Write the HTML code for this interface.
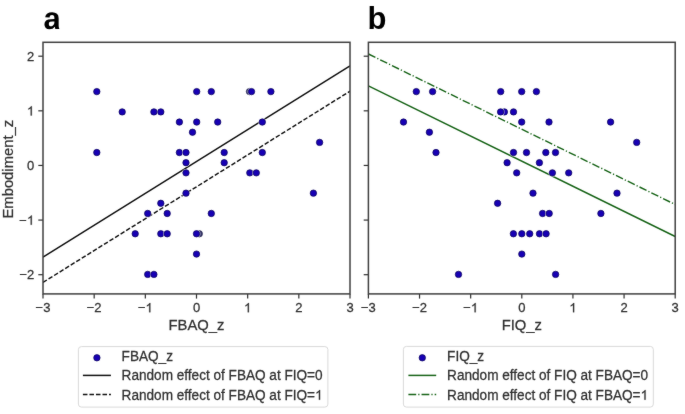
<!DOCTYPE html>
<html><head><meta charset="utf-8"><title>Figure</title><style>
html,body{margin:0;padding:0;background:#fff;}
body{width:685px;height:414px;overflow:hidden;}
svg{display:block;}
text{font-family:"Liberation Sans", sans-serif;fill:#303030;stroke:#303030;stroke-width:0.25px;}
.tk{font-size:13px;}
.lab{font-size:14.8px;}
.lg{font-size:13.6px;}
.one{fill:none;stroke:none;}
.pl{font-size:31px;font-weight:bold;fill:#000;stroke:none;}
</style></head>
<body><svg width="685" height="414" viewBox="0 0 685 414"><defs><filter id="soft" filterUnits="userSpaceOnUse" x="0" y="0" width="685" height="414" color-interpolation-filters="sRGB"><feConvolveMatrix order="3" kernelMatrix="1 2 1 2 40 2 1 2 1" edgeMode="duplicate"/></filter></defs><rect width="685" height="414" fill="#fff"/><g filter="url(#soft)"><path d="M393 -20Q236 -20 148 65.5Q60 151 60 306Q60 474 169.5 562Q279 650 487 652L720 656V711Q720 817 683 868.5Q646 920 562 920Q484 920 447.5 884.5Q411 849 402 767L109 781Q136 939 253.5 1020.5Q371 1102 574 1102Q779 1102 890 1001Q1001 900 1001 714V230Q1001 110 1030 50Q1045 18 1068 0H782Q772 28 766 66Q761 100 758 150H749Q631 -20 393 -20ZM720 501L576 499Q478 495 437 477.5Q396 460 374.5 424Q353 388 353 328Q353 251 388.5 213.5Q424 176 483 176Q549 176 603.5 212Q658 248 689 311.5Q720 375 720 446Z" transform="translate(43.5,29) scale(0.015137,-0.015137)" fill="#000"/><text x="367.5" y="29" class="pl">b</text><line x1="43.00" y1="293.9" x2="43.00" y2="298.59999999999997" stroke="#303030" stroke-width="1.2"/><text transform="translate(43.00,312.30) scale(1,1.04)" class="tk" text-anchor="middle">−3</text><line x1="94.17" y1="293.9" x2="94.17" y2="298.59999999999997" stroke="#303030" stroke-width="1.2"/><text transform="translate(94.17,312.30) scale(1,1.04)" class="tk" text-anchor="middle">−2</text><line x1="145.33" y1="293.9" x2="145.33" y2="298.59999999999997" stroke="#303030" stroke-width="1.2"/><text transform="translate(145.33,312.30) scale(1,1.04)" class="tk" text-anchor="middle">−<tspan class="one">1</tspan></text><line x1="196.50" y1="293.9" x2="196.50" y2="298.59999999999997" stroke="#303030" stroke-width="1.2"/><text transform="translate(196.50,312.30) scale(1,1.04)" class="tk" text-anchor="middle">0</text><line x1="247.67" y1="293.9" x2="247.67" y2="298.59999999999997" stroke="#303030" stroke-width="1.2"/><text transform="translate(247.67,312.30) scale(1,1.04)" class="tk" text-anchor="middle"><tspan class="one">1</tspan></text><line x1="298.83" y1="293.9" x2="298.83" y2="298.59999999999997" stroke="#303030" stroke-width="1.2"/><text transform="translate(298.83,312.30) scale(1,1.04)" class="tk" text-anchor="middle">2</text><line x1="350.00" y1="293.9" x2="350.00" y2="298.59999999999997" stroke="#303030" stroke-width="1.2"/><text transform="translate(350.00,312.30) scale(1,1.04)" class="tk" text-anchor="middle">3</text><line x1="38.3" y1="56.19999999999999" x2="43.0" y2="56.19999999999999" stroke="#303030" stroke-width="1.2"/><text transform="translate(34.20,60.90) scale(1,1.04)" class="tk" text-anchor="end">2</text><line x1="38.3" y1="110.82499999999999" x2="43.0" y2="110.82499999999999" stroke="#303030" stroke-width="1.2"/><text transform="translate(34.20,115.52) scale(1,1.04)" class="tk" text-anchor="end"><tspan class="one">1</tspan></text><line x1="38.3" y1="165.45" x2="43.0" y2="165.45" stroke="#303030" stroke-width="1.2"/><text transform="translate(34.20,170.15) scale(1,1.04)" class="tk" text-anchor="end">0</text><line x1="38.3" y1="220.075" x2="43.0" y2="220.075" stroke="#303030" stroke-width="1.2"/><text transform="translate(34.20,224.77) scale(1,1.04)" class="tk" text-anchor="end">−<tspan class="one">1</tspan></text><line x1="38.3" y1="274.7" x2="43.0" y2="274.7" stroke="#303030" stroke-width="1.2"/><text transform="translate(34.20,279.40) scale(1,1.04)" class="tk" text-anchor="end">−2</text><text transform="translate(196.50,329.70) scale(1,1.04)" class="lab" text-anchor="middle">FBAQ_z</text><line x1="368.40" y1="293.9" x2="368.40" y2="298.59999999999997" stroke="#303030" stroke-width="1.2"/><text transform="translate(368.40,312.30) scale(1,1.04)" class="tk" text-anchor="middle">−3</text><line x1="419.53" y1="293.9" x2="419.53" y2="298.59999999999997" stroke="#303030" stroke-width="1.2"/><text transform="translate(419.53,312.30) scale(1,1.04)" class="tk" text-anchor="middle">−2</text><line x1="470.67" y1="293.9" x2="470.67" y2="298.59999999999997" stroke="#303030" stroke-width="1.2"/><text transform="translate(470.67,312.30) scale(1,1.04)" class="tk" text-anchor="middle">−<tspan class="one">1</tspan></text><line x1="521.80" y1="293.9" x2="521.80" y2="298.59999999999997" stroke="#303030" stroke-width="1.2"/><text transform="translate(521.80,312.30) scale(1,1.04)" class="tk" text-anchor="middle">0</text><line x1="572.93" y1="293.9" x2="572.93" y2="298.59999999999997" stroke="#303030" stroke-width="1.2"/><text transform="translate(572.93,312.30) scale(1,1.04)" class="tk" text-anchor="middle"><tspan class="one">1</tspan></text><line x1="624.07" y1="293.9" x2="624.07" y2="298.59999999999997" stroke="#303030" stroke-width="1.2"/><text transform="translate(624.07,312.30) scale(1,1.04)" class="tk" text-anchor="middle">2</text><line x1="675.20" y1="293.9" x2="675.20" y2="298.59999999999997" stroke="#303030" stroke-width="1.2"/><text transform="translate(675.20,312.30) scale(1,1.04)" class="tk" text-anchor="middle">3</text><line x1="363.7" y1="56.19999999999999" x2="368.4" y2="56.19999999999999" stroke="#303030" stroke-width="1.2"/><line x1="363.7" y1="110.82499999999999" x2="368.4" y2="110.82499999999999" stroke="#303030" stroke-width="1.2"/><line x1="363.7" y1="165.45" x2="368.4" y2="165.45" stroke="#303030" stroke-width="1.2"/><line x1="363.7" y1="220.075" x2="368.4" y2="220.075" stroke="#303030" stroke-width="1.2"/><line x1="363.7" y1="274.7" x2="368.4" y2="274.7" stroke="#303030" stroke-width="1.2"/><text transform="translate(521.80,329.70) scale(1,1.04)" class="lab" text-anchor="middle">FIQ_z</text><text transform="translate(13.2,169.2) rotate(-90) scale(1,1.04)" class="lab" text-anchor="middle">Embodiment_z</text><defs><clipPath id="cl"><rect x="43.0" y="42.3" width="307.0" height="251.59999999999997"/></clipPath><clipPath id="cr"><rect x="368.4" y="42.3" width="306.80000000000007" height="251.59999999999997"/></clipPath></defs><g clip-path="url(#cl)"><line x1="43" y1="257.2" x2="350" y2="65.8" stroke="#111" stroke-width="1.45"/><line x1="43" y1="282.4" x2="350" y2="91.2" stroke="#111" stroke-width="1.45" stroke-dasharray="4.55 1.98"/><circle cx="249.5" cy="91.6" r="3.95" fill="#fff" fill-opacity="0.8"/><circle cx="249.5" cy="91.6" r="3.2" fill="#34346a" stroke="#2a2a50" stroke-width="0.7"/><circle cx="251.5" cy="91.6" r="3.95" fill="#fff" fill-opacity="0.8"/><circle cx="251.5" cy="91.6" r="3.2" fill="#1700b4" stroke="#0c0558" stroke-width="0.7"/><circle cx="199.3" cy="233.77" r="3.95" fill="#fff" fill-opacity="0.8"/><circle cx="199.3" cy="233.77" r="3.2" fill="#34346a" stroke="#2a2a50" stroke-width="0.7"/><circle cx="196.5" cy="233.77" r="3.95" fill="#fff" fill-opacity="0.8"/><circle cx="196.5" cy="233.77" r="3.2" fill="#1700b4" stroke="#0c0558" stroke-width="0.7"/><circle cx="96.8" cy="91.6" r="3.95" fill="#fff" fill-opacity="0.8"/><circle cx="96.8" cy="91.6" r="3.2" fill="#1700b4" stroke="#0c0558" stroke-width="0.7"/><circle cx="196.7" cy="91.6" r="3.95" fill="#fff" fill-opacity="0.8"/><circle cx="196.7" cy="91.6" r="3.2" fill="#1700b4" stroke="#0c0558" stroke-width="0.7"/><circle cx="211.3" cy="91.6" r="3.95" fill="#fff" fill-opacity="0.8"/><circle cx="211.3" cy="91.6" r="3.2" fill="#1700b4" stroke="#0c0558" stroke-width="0.7"/><circle cx="270.9" cy="91.6" r="3.95" fill="#fff" fill-opacity="0.8"/><circle cx="270.9" cy="91.6" r="3.2" fill="#1700b4" stroke="#0c0558" stroke-width="0.7"/><circle cx="122.2" cy="111.91" r="3.95" fill="#fff" fill-opacity="0.8"/><circle cx="122.2" cy="111.91" r="3.2" fill="#1700b4" stroke="#0c0558" stroke-width="0.7"/><circle cx="153.9" cy="111.91" r="3.95" fill="#fff" fill-opacity="0.8"/><circle cx="153.9" cy="111.91" r="3.2" fill="#1700b4" stroke="#0c0558" stroke-width="0.7"/><circle cx="160.8" cy="111.91" r="3.95" fill="#fff" fill-opacity="0.8"/><circle cx="160.8" cy="111.91" r="3.2" fill="#1700b4" stroke="#0c0558" stroke-width="0.7"/><circle cx="179.4" cy="122.06" r="3.95" fill="#fff" fill-opacity="0.8"/><circle cx="179.4" cy="122.06" r="3.2" fill="#1700b4" stroke="#0c0558" stroke-width="0.7"/><circle cx="196.7" cy="122.06" r="3.95" fill="#fff" fill-opacity="0.8"/><circle cx="196.7" cy="122.06" r="3.2" fill="#1700b4" stroke="#0c0558" stroke-width="0.7"/><circle cx="217.7" cy="122.06" r="3.95" fill="#fff" fill-opacity="0.8"/><circle cx="217.7" cy="122.06" r="3.2" fill="#1700b4" stroke="#0c0558" stroke-width="0.7"/><circle cx="262.3" cy="122.06" r="3.95" fill="#fff" fill-opacity="0.8"/><circle cx="262.3" cy="122.06" r="3.2" fill="#1700b4" stroke="#0c0558" stroke-width="0.7"/><circle cx="192.5" cy="132.22" r="3.95" fill="#fff" fill-opacity="0.8"/><circle cx="192.5" cy="132.22" r="3.2" fill="#1700b4" stroke="#0c0558" stroke-width="0.7"/><circle cx="319.6" cy="142.38" r="3.95" fill="#fff" fill-opacity="0.8"/><circle cx="319.6" cy="142.38" r="3.2" fill="#1700b4" stroke="#0c0558" stroke-width="0.7"/><circle cx="96.8" cy="152.53" r="3.95" fill="#fff" fill-opacity="0.8"/><circle cx="96.8" cy="152.53" r="3.2" fill="#1700b4" stroke="#0c0558" stroke-width="0.7"/><circle cx="179.4" cy="152.53" r="3.95" fill="#fff" fill-opacity="0.8"/><circle cx="179.4" cy="152.53" r="3.2" fill="#1700b4" stroke="#0c0558" stroke-width="0.7"/><circle cx="186.0" cy="152.53" r="3.95" fill="#fff" fill-opacity="0.8"/><circle cx="186.0" cy="152.53" r="3.2" fill="#1700b4" stroke="#0c0558" stroke-width="0.7"/><circle cx="224.2" cy="152.53" r="3.95" fill="#fff" fill-opacity="0.8"/><circle cx="224.2" cy="152.53" r="3.2" fill="#1700b4" stroke="#0c0558" stroke-width="0.7"/><circle cx="262.3" cy="152.53" r="3.95" fill="#fff" fill-opacity="0.8"/><circle cx="262.3" cy="152.53" r="3.2" fill="#1700b4" stroke="#0c0558" stroke-width="0.7"/><circle cx="186.0" cy="162.69" r="3.95" fill="#fff" fill-opacity="0.8"/><circle cx="186.0" cy="162.69" r="3.2" fill="#1700b4" stroke="#0c0558" stroke-width="0.7"/><circle cx="224.2" cy="162.69" r="3.95" fill="#fff" fill-opacity="0.8"/><circle cx="224.2" cy="162.69" r="3.2" fill="#1700b4" stroke="#0c0558" stroke-width="0.7"/><circle cx="186.0" cy="172.84" r="3.95" fill="#fff" fill-opacity="0.8"/><circle cx="186.0" cy="172.84" r="3.2" fill="#1700b4" stroke="#0c0558" stroke-width="0.7"/><circle cx="249.8" cy="172.84" r="3.95" fill="#fff" fill-opacity="0.8"/><circle cx="249.8" cy="172.84" r="3.2" fill="#1700b4" stroke="#0c0558" stroke-width="0.7"/><circle cx="256.3" cy="172.84" r="3.95" fill="#fff" fill-opacity="0.8"/><circle cx="256.3" cy="172.84" r="3.2" fill="#1700b4" stroke="#0c0558" stroke-width="0.7"/><circle cx="186.0" cy="193.15" r="3.95" fill="#fff" fill-opacity="0.8"/><circle cx="186.0" cy="193.15" r="3.2" fill="#1700b4" stroke="#0c0558" stroke-width="0.7"/><circle cx="313.4" cy="193.15" r="3.95" fill="#fff" fill-opacity="0.8"/><circle cx="313.4" cy="193.15" r="3.2" fill="#1700b4" stroke="#0c0558" stroke-width="0.7"/><circle cx="160.8" cy="203.31" r="3.95" fill="#fff" fill-opacity="0.8"/><circle cx="160.8" cy="203.31" r="3.2" fill="#1700b4" stroke="#0c0558" stroke-width="0.7"/><circle cx="147.7" cy="213.46" r="3.95" fill="#fff" fill-opacity="0.8"/><circle cx="147.7" cy="213.46" r="3.2" fill="#1700b4" stroke="#0c0558" stroke-width="0.7"/><circle cx="167.2" cy="213.46" r="3.95" fill="#fff" fill-opacity="0.8"/><circle cx="167.2" cy="213.46" r="3.2" fill="#1700b4" stroke="#0c0558" stroke-width="0.7"/><circle cx="211.3" cy="213.46" r="3.95" fill="#fff" fill-opacity="0.8"/><circle cx="211.3" cy="213.46" r="3.2" fill="#1700b4" stroke="#0c0558" stroke-width="0.7"/><circle cx="135.2" cy="233.77" r="3.95" fill="#fff" fill-opacity="0.8"/><circle cx="135.2" cy="233.77" r="3.2" fill="#1700b4" stroke="#0c0558" stroke-width="0.7"/><circle cx="160.8" cy="233.77" r="3.95" fill="#fff" fill-opacity="0.8"/><circle cx="160.8" cy="233.77" r="3.2" fill="#1700b4" stroke="#0c0558" stroke-width="0.7"/><circle cx="167.2" cy="233.77" r="3.95" fill="#fff" fill-opacity="0.8"/><circle cx="167.2" cy="233.77" r="3.2" fill="#1700b4" stroke="#0c0558" stroke-width="0.7"/><circle cx="196.5" cy="254.08" r="3.95" fill="#fff" fill-opacity="0.8"/><circle cx="196.5" cy="254.08" r="3.2" fill="#1700b4" stroke="#0c0558" stroke-width="0.7"/><circle cx="147.7" cy="274.39" r="3.95" fill="#fff" fill-opacity="0.8"/><circle cx="147.7" cy="274.39" r="3.2" fill="#1700b4" stroke="#0c0558" stroke-width="0.7"/><circle cx="153.9" cy="274.39" r="3.95" fill="#fff" fill-opacity="0.8"/><circle cx="153.9" cy="274.39" r="3.2" fill="#1700b4" stroke="#0c0558" stroke-width="0.7"/></g><g clip-path="url(#cr)"><line x1="368.4" y1="85.8" x2="675.2" y2="236.5" stroke="#186418" stroke-width="1.4"/><line x1="368.4" y1="54.0" x2="675.2" y2="204.5" stroke="#186418" stroke-width="1.4" stroke-dasharray="7.8 2.05 1.23 2.05"/><circle cx="504.4" cy="111.91" r="3.95" fill="#fff" fill-opacity="0.8"/><circle cx="504.4" cy="111.91" r="3.2" fill="#1700b4" stroke="#0c0558" stroke-width="0.7"/><circle cx="500.6" cy="111.91" r="3.95" fill="#fff" fill-opacity="0.8"/><circle cx="500.6" cy="111.91" r="3.2" fill="#1700b4" stroke="#0c0558" stroke-width="0.7"/><circle cx="416.3" cy="91.6" r="3.95" fill="#fff" fill-opacity="0.8"/><circle cx="416.3" cy="91.6" r="3.2" fill="#1700b4" stroke="#0c0558" stroke-width="0.7"/><circle cx="432.6" cy="91.6" r="3.95" fill="#fff" fill-opacity="0.8"/><circle cx="432.6" cy="91.6" r="3.2" fill="#1700b4" stroke="#0c0558" stroke-width="0.7"/><circle cx="500.7" cy="91.6" r="3.95" fill="#fff" fill-opacity="0.8"/><circle cx="500.7" cy="91.6" r="3.2" fill="#1700b4" stroke="#0c0558" stroke-width="0.7"/><circle cx="521.7" cy="91.6" r="3.95" fill="#fff" fill-opacity="0.8"/><circle cx="521.7" cy="91.6" r="3.2" fill="#1700b4" stroke="#0c0558" stroke-width="0.7"/><circle cx="536.4" cy="91.6" r="3.95" fill="#fff" fill-opacity="0.8"/><circle cx="536.4" cy="91.6" r="3.2" fill="#1700b4" stroke="#0c0558" stroke-width="0.7"/><circle cx="513.5" cy="111.91" r="3.95" fill="#fff" fill-opacity="0.8"/><circle cx="513.5" cy="111.91" r="3.2" fill="#1700b4" stroke="#0c0558" stroke-width="0.7"/><circle cx="403.5" cy="122.06" r="3.95" fill="#fff" fill-opacity="0.8"/><circle cx="403.5" cy="122.06" r="3.2" fill="#1700b4" stroke="#0c0558" stroke-width="0.7"/><circle cx="521.7" cy="122.06" r="3.95" fill="#fff" fill-opacity="0.8"/><circle cx="521.7" cy="122.06" r="3.2" fill="#1700b4" stroke="#0c0558" stroke-width="0.7"/><circle cx="549.0" cy="122.06" r="3.95" fill="#fff" fill-opacity="0.8"/><circle cx="549.0" cy="122.06" r="3.2" fill="#1700b4" stroke="#0c0558" stroke-width="0.7"/><circle cx="610.6" cy="122.06" r="3.95" fill="#fff" fill-opacity="0.8"/><circle cx="610.6" cy="122.06" r="3.2" fill="#1700b4" stroke="#0c0558" stroke-width="0.7"/><circle cx="429.4" cy="132.22" r="3.95" fill="#fff" fill-opacity="0.8"/><circle cx="429.4" cy="132.22" r="3.2" fill="#1700b4" stroke="#0c0558" stroke-width="0.7"/><circle cx="636.7" cy="142.38" r="3.95" fill="#fff" fill-opacity="0.8"/><circle cx="636.7" cy="142.38" r="3.2" fill="#1700b4" stroke="#0c0558" stroke-width="0.7"/><circle cx="436.0" cy="152.53" r="3.95" fill="#fff" fill-opacity="0.8"/><circle cx="436.0" cy="152.53" r="3.2" fill="#1700b4" stroke="#0c0558" stroke-width="0.7"/><circle cx="513.5" cy="152.53" r="3.95" fill="#fff" fill-opacity="0.8"/><circle cx="513.5" cy="152.53" r="3.2" fill="#1700b4" stroke="#0c0558" stroke-width="0.7"/><circle cx="526.5" cy="152.53" r="3.95" fill="#fff" fill-opacity="0.8"/><circle cx="526.5" cy="152.53" r="3.2" fill="#1700b4" stroke="#0c0558" stroke-width="0.7"/><circle cx="545.8" cy="152.53" r="3.95" fill="#fff" fill-opacity="0.8"/><circle cx="545.8" cy="152.53" r="3.2" fill="#1700b4" stroke="#0c0558" stroke-width="0.7"/><circle cx="555.5" cy="152.53" r="3.95" fill="#fff" fill-opacity="0.8"/><circle cx="555.5" cy="152.53" r="3.2" fill="#1700b4" stroke="#0c0558" stroke-width="0.7"/><circle cx="507.1" cy="162.69" r="3.95" fill="#fff" fill-opacity="0.8"/><circle cx="507.1" cy="162.69" r="3.2" fill="#1700b4" stroke="#0c0558" stroke-width="0.7"/><circle cx="539.4" cy="162.69" r="3.95" fill="#fff" fill-opacity="0.8"/><circle cx="539.4" cy="162.69" r="3.2" fill="#1700b4" stroke="#0c0558" stroke-width="0.7"/><circle cx="516.7" cy="172.84" r="3.95" fill="#fff" fill-opacity="0.8"/><circle cx="516.7" cy="172.84" r="3.2" fill="#1700b4" stroke="#0c0558" stroke-width="0.7"/><circle cx="552.4" cy="172.84" r="3.95" fill="#fff" fill-opacity="0.8"/><circle cx="552.4" cy="172.84" r="3.2" fill="#1700b4" stroke="#0c0558" stroke-width="0.7"/><circle cx="568.7" cy="172.84" r="3.95" fill="#fff" fill-opacity="0.8"/><circle cx="568.7" cy="172.84" r="3.2" fill="#1700b4" stroke="#0c0558" stroke-width="0.7"/><circle cx="533.0" cy="193.15" r="3.95" fill="#fff" fill-opacity="0.8"/><circle cx="533.0" cy="193.15" r="3.2" fill="#1700b4" stroke="#0c0558" stroke-width="0.7"/><circle cx="617.0" cy="193.15" r="3.95" fill="#fff" fill-opacity="0.8"/><circle cx="617.0" cy="193.15" r="3.2" fill="#1700b4" stroke="#0c0558" stroke-width="0.7"/><circle cx="497.6" cy="203.31" r="3.95" fill="#fff" fill-opacity="0.8"/><circle cx="497.6" cy="203.31" r="3.2" fill="#1700b4" stroke="#0c0558" stroke-width="0.7"/><circle cx="542.6" cy="213.46" r="3.95" fill="#fff" fill-opacity="0.8"/><circle cx="542.6" cy="213.46" r="3.2" fill="#1700b4" stroke="#0c0558" stroke-width="0.7"/><circle cx="549.2" cy="213.46" r="3.95" fill="#fff" fill-opacity="0.8"/><circle cx="549.2" cy="213.46" r="3.2" fill="#1700b4" stroke="#0c0558" stroke-width="0.7"/><circle cx="600.9" cy="213.46" r="3.95" fill="#fff" fill-opacity="0.8"/><circle cx="600.9" cy="213.46" r="3.2" fill="#1700b4" stroke="#0c0558" stroke-width="0.7"/><circle cx="513.4" cy="233.77" r="3.95" fill="#fff" fill-opacity="0.8"/><circle cx="513.4" cy="233.77" r="3.2" fill="#1700b4" stroke="#0c0558" stroke-width="0.7"/><circle cx="521.8" cy="233.77" r="3.95" fill="#fff" fill-opacity="0.8"/><circle cx="521.8" cy="233.77" r="3.2" fill="#1700b4" stroke="#0c0558" stroke-width="0.7"/><circle cx="529.7" cy="233.77" r="3.95" fill="#fff" fill-opacity="0.8"/><circle cx="529.7" cy="233.77" r="3.2" fill="#1700b4" stroke="#0c0558" stroke-width="0.7"/><circle cx="539.5" cy="233.77" r="3.95" fill="#fff" fill-opacity="0.8"/><circle cx="539.5" cy="233.77" r="3.2" fill="#1700b4" stroke="#0c0558" stroke-width="0.7"/><circle cx="546.1" cy="233.77" r="3.95" fill="#fff" fill-opacity="0.8"/><circle cx="546.1" cy="233.77" r="3.2" fill="#1700b4" stroke="#0c0558" stroke-width="0.7"/><circle cx="521.8" cy="254.08" r="3.95" fill="#fff" fill-opacity="0.8"/><circle cx="521.8" cy="254.08" r="3.2" fill="#1700b4" stroke="#0c0558" stroke-width="0.7"/><circle cx="458.5" cy="274.39" r="3.95" fill="#fff" fill-opacity="0.8"/><circle cx="458.5" cy="274.39" r="3.2" fill="#1700b4" stroke="#0c0558" stroke-width="0.7"/><circle cx="555.6" cy="274.39" r="3.95" fill="#fff" fill-opacity="0.8"/><circle cx="555.6" cy="274.39" r="3.2" fill="#1700b4" stroke="#0c0558" stroke-width="0.7"/></g><rect x="43.0" y="42.3" width="307.00" height="251.60" fill="none" stroke="#404040" stroke-width="1.5"/><rect x="368.4" y="42.3" width="306.80" height="251.60" fill="none" stroke="#404040" stroke-width="1.5"/><rect x="78.4" y="346.6" width="249.50" height="60.50" rx="3" ry="3" fill="#fff" stroke="#d9d9d9" stroke-width="1"/><circle cx="96.9" cy="357.8" r="3.95" fill="#fff" fill-opacity="0.8"/><circle cx="96.9" cy="357.8" r="3.2" fill="#1700b4" stroke="#0c0558" stroke-width="0.7"/><line x1="82.9" y1="375.4" x2="110.9" y2="375.4" stroke="#111" stroke-width="1.5"/><line x1="82.9" y1="394.6" x2="110.9" y2="394.6" stroke="#111" stroke-width="1.5" stroke-dasharray="4.55 1.98"/><text transform="translate(121.60,361.30) scale(1,1.04)" class="lg">FBAQ_z</text><text transform="translate(121.60,380.40) scale(1,1.04)" class="lg">Random effect of FBAQ at FIQ=0</text><text transform="translate(121.60,399.70) scale(1,1.04)" class="lg">Random effect of FBAQ at FIQ=<tspan class="one">1</tspan></text><rect x="403.4" y="346.4" width="249.90" height="60.70" rx="3" ry="3" fill="#fff" stroke="#d9d9d9" stroke-width="1"/><circle cx="422.29999999999995" cy="357.8" r="3.95" fill="#fff" fill-opacity="0.8"/><circle cx="422.29999999999995" cy="357.8" r="3.2" fill="#1700b4" stroke="#0c0558" stroke-width="0.7"/><line x1="408.4" y1="375.4" x2="436.2" y2="375.4" stroke="#186418" stroke-width="1.5"/><line x1="408.4" y1="394.6" x2="436.2" y2="394.6" stroke="#186418" stroke-width="1.5" stroke-dasharray="7.8 2.05 1.23 2.05"/><text transform="translate(447.10,361.30) scale(1,1.04)" class="lg">FIQ_z</text><text transform="translate(447.10,380.40) scale(1,1.04)" class="lg">Random effect of FIQ at FBAQ=0</text><text transform="translate(447.10,399.70) scale(1,1.04)" class="lg">Random effect of FIQ at FBAQ=<tspan class="one">1</tspan></text><path d="M763 0H583V1098Q518 1038 412.5 979Q307 920 223 890V1057Q374 1125 487 1221Q600 1318 647 1409H763Z" transform="translate(145.33,312.30) scale(1,1.04) translate(0.184,0.000) scale(0.006348,-0.006348)" fill="#303030" stroke="#303030" stroke-width="0.25" vector-effect="non-scaling-stroke"/><path d="M763 0H583V1098Q518 1038 412.5 979Q307 920 223 890V1057Q374 1125 487 1221Q600 1318 647 1409H763Z" transform="translate(247.67,312.30) scale(1,1.04) translate(-3.615,0.000) scale(0.006348,-0.006348)" fill="#303030" stroke="#303030" stroke-width="0.25" vector-effect="non-scaling-stroke"/><path d="M763 0H583V1098Q518 1038 412.5 979Q307 920 223 890V1057Q374 1125 487 1221Q600 1318 647 1409H763Z" transform="translate(34.20,115.52) scale(1,1.04) translate(-7.229,0.000) scale(0.006348,-0.006348)" fill="#303030" stroke="#303030" stroke-width="0.25" vector-effect="non-scaling-stroke"/><path d="M763 0H583V1098Q518 1038 412.5 979Q307 920 223 890V1057Q374 1125 487 1221Q600 1318 647 1409H763Z" transform="translate(34.20,224.77) scale(1,1.04) translate(-7.229,0.000) scale(0.006348,-0.006348)" fill="#303030" stroke="#303030" stroke-width="0.25" vector-effect="non-scaling-stroke"/><path d="M763 0H583V1098Q518 1038 412.5 979Q307 920 223 890V1057Q374 1125 487 1221Q600 1318 647 1409H763Z" transform="translate(470.67,312.30) scale(1,1.04) translate(0.184,0.000) scale(0.006348,-0.006348)" fill="#303030" stroke="#303030" stroke-width="0.25" vector-effect="non-scaling-stroke"/><path d="M763 0H583V1098Q518 1038 412.5 979Q307 920 223 890V1057Q374 1125 487 1221Q600 1318 647 1409H763Z" transform="translate(572.93,312.30) scale(1,1.04) translate(-3.615,0.000) scale(0.006348,-0.006348)" fill="#303030" stroke="#303030" stroke-width="0.25" vector-effect="non-scaling-stroke"/><path d="M763 0H583V1098Q518 1038 412.5 979Q307 920 223 890V1057Q374 1125 487 1221Q600 1318 647 1409H763Z" transform="translate(121.60,399.70) scale(1,1.04) translate(193.422,0.000) scale(0.006641,-0.006641)" fill="#303030" stroke="#303030" stroke-width="0.25" vector-effect="non-scaling-stroke"/><path d="M763 0H583V1098Q518 1038 412.5 979Q307 920 223 890V1057Q374 1125 487 1221Q600 1318 647 1409H763Z" transform="translate(447.10,399.70) scale(1,1.04) translate(193.422,0.000) scale(0.006641,-0.006641)" fill="#303030" stroke="#303030" stroke-width="0.25" vector-effect="non-scaling-stroke"/></g></svg></body></html>
